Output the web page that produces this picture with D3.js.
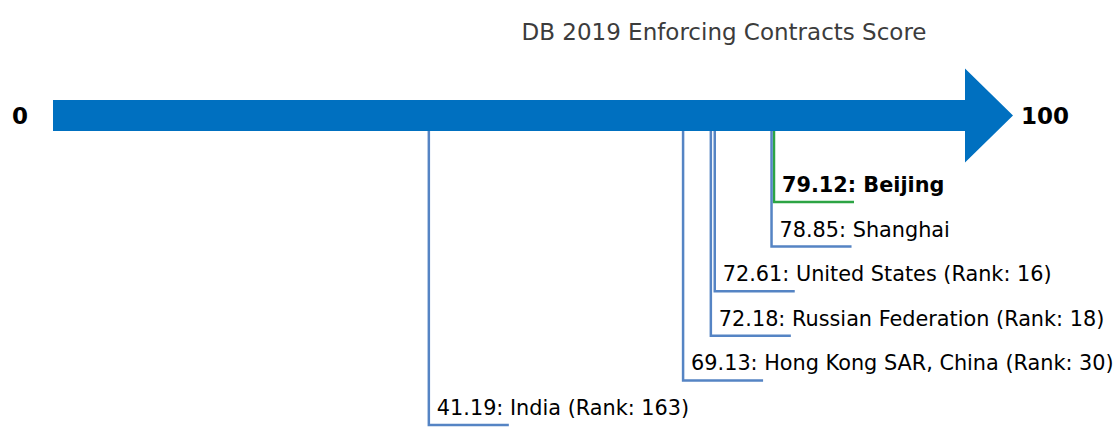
<!DOCTYPE html>
<html>
<head>
<meta charset="utf-8">
<script src="https://cdn.jsdelivr.net/npm/d3@7"></script>
<style>
  html, body { margin: 0; padding: 0; background: #fff; }
  svg { display: block; font-family: "DejaVu Sans", sans-serif; }
</style>
</head>
<body>
<svg id="chart" width="1116" height="427"></svg>
<script>
// Doing Business 2019 – Enforcing Contracts scores
const names  = ["Beijing", "Shanghai", "United States", "Russian Federation", "Hong Kong SAR, China", "India"];
const scores = [79.12, 78.85, 72.61, 72.18, 69.13, 41.19];
const ranks  = [null, null, 16, 18, 30, 163];
const highlight = ["Beijing"];
const axisDomain = [0, 100];
const axisLabels = ["0", "100"];

const svg = d3.select("#chart");

const x = d3.scaleLinear().domain(axisDomain).range([54, 964]);
const row = d3.scalePoint().domain(names).range([202, 425]);

const barTop = 100, barBottom = 131, barMid = (barTop + barBottom) / 2;
const headHalf = 47, headLen = 49;

// title
svg.append("text")
  .attr("x", 724).attr("y", 40)
  .attr("text-anchor", "middle")
  .attr("font-size", 23)
  .attr("fill", "#3c3c3c")
  .text("DB 2019 Enforcing Contracts Score");

// leader lines (drawn first so the arrow sits on top)
const rows = names.map((n, i) => ({ name: n, score: scores[i], rank: ranks[i], hi: highlight.includes(n) }));

const g = svg.append("g");
rows.forEach(d => {
  const px = x(d.score), py = row(d.name);
  g.append("path")
    .attr("d", `M${px},${barBottom - 2}V${py}H${px + 80}`)
    .attr("fill", "none")
    .attr("stroke", d.hi ? "#2ca444" : "#5584c4")
    .attr("stroke-width", 2.5);
  g.append("text")
    .attr("x", px + 8).attr("y", py - 10)
    .attr("font-size", 20.8)
    .attr("font-weight", d.hi ? "bold" : "normal")
    .attr("fill", "#000")
    .text(`${d.score.toFixed(2)}: ${d.name}` + (d.rank != null ? ` (Rank: ${d.rank})` : ""));
});

// arrow axis
const x0 = x(axisDomain[0]), x1 = x(axisDomain[1]);
svg.append("path")
  .attr("d", `M${x0 - 1},${barTop}H${x1 + 1}V${barMid - headHalf}L${x1 + headLen},${barMid}L${x1 + 1},${barMid + headHalf}V${barBottom}H${x0 - 1}Z`)
  .attr("fill", "#0070c0");

svg.append("text")
  .attr("x", 20).attr("y", barMid + 8)
  .attr("text-anchor", "middle")
  .attr("font-size", 23).attr("font-weight", "bold")
  .text(axisLabels[0]);
svg.append("text")
  .attr("x", 1021).attr("y", barMid + 8)
  .attr("font-size", 23).attr("font-weight", "bold")
  .text(axisLabels[1]);
</script>
</body>
</html>
